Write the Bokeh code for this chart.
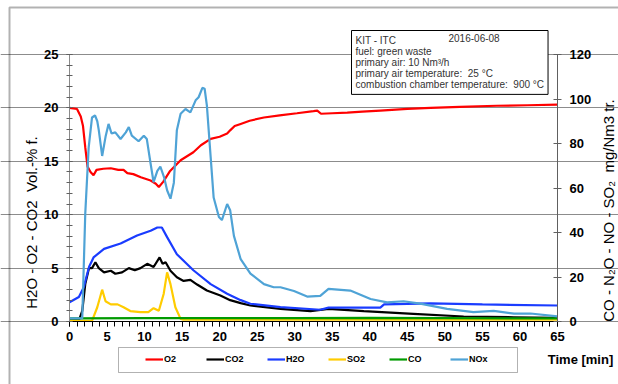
import math
from bokeh.plotting import figure
from bokeh.models import (Range1d, LinearAxis, FixedTicker, Label, BoxAnnotation,
                          Legend, LegendItem)
from bokeh.embed import file_html
from bokeh.resources import INLINE

# ---------------- data ----------------
o2_t = [0, 1.0, 1.5, 1.8, 2.1, 2.4, 2.8, 3.2, 3.6, 4.5, 5.5, 6.5, 7.2, 7.7, 8.5, 9.5, 10.8, 11.5,
        11.9, 12.5, 13.4, 14.8, 16.5, 17.5, 18.8, 20, 21, 21.4, 22, 22.8, 24, 25.9, 28, 30.3, 32.5,
        33.0, 33.5, 35, 37, 39, 41.4, 45, 48.1, 52, 56.9, 61, 65]
o2_v = [20.0, 19.9, 19.2, 18.3, 16.3, 14.5, 14.0, 13.7, 14.2, 14.3, 14.35, 14.2, 14.2, 13.9, 13.8,
        13.5, 13.2, 12.9, 12.6, 13.1, 14.1, 15.1, 15.85, 16.5, 17.1, 17.3, 17.6, 17.9, 18.3, 18.5,
        18.8, 19.1, 19.3, 19.5, 19.7, 19.75, 19.45, 19.5, 19.55, 19.65, 19.75, 19.9, 20.0, 20.1,
        20.2, 20.25, 20.3]

co2_t = [0, 1.3, 1.7, 2.1, 2.6, 3.0, 3.45, 3.9, 4.6, 5.5, 6.1, 7.0, 7.9, 8.7, 9.45, 10.35, 11.2,
         12.0, 12.4, 12.8, 13.45, 14.3, 15.2, 16.1, 17.0, 18.3, 20.1, 21.4, 22.8, 24.1, 28.1, 32.1,
         34.5, 39.2, 45.8, 52.5, 59.2, 65]
co2_v = [0.2, 0.2, 1.0, 3.5, 5.0, 5.0, 5.55, 5.0, 4.6, 4.75, 4.47, 4.6, 5.0, 4.8, 5.0, 5.4, 5.1,
         6.0, 5.4, 5.55, 4.75, 4.15, 3.8, 3.9, 3.46, 2.9, 2.43, 2.0, 1.72, 1.5, 1.19, 0.97, 1.19,
         0.97, 0.72, 0.47, 0.4, 0.35]

h2o_t = [0, 1.25, 1.9, 2.6, 3.2, 4.6, 6.8, 9.0, 10.8, 11.7, 12.3, 13.0, 14.3, 16.5, 18.8, 21,
         22.8, 24.1, 28.1, 33.4, 34.5, 41.4, 41.9, 48.1, 55, 65]
h2o_v = [1.8, 2.3, 3.2, 5.1, 6.0, 6.8, 7.3, 8.05, 8.5, 8.8, 8.8, 7.9, 6.3, 4.8, 3.5, 2.6, 2.0,
         1.66, 1.34, 1.1, 1.3, 1.3, 1.6, 1.7, 1.6, 1.5]

so2_t = [0, 3.0, 3.7, 4.35, 4.8, 5.5, 6.4, 7.2, 8.1, 9.45, 10.5, 11.2, 11.9, 12.55, 13.0, 13.45,
         14.1, 14.8, 15.2, 20, 30, 40, 50, 65]
so2_v = [0.3, 0.3, 6.4, 14.3, 9.1, 7.7, 7.7, 6.4, 4.7, 4.2, 4.2, 6.0, 4.8, 12.5, 22.1, 16.8, 6.4,
         1.2, 0.8, 0.8, 0.8, 0.8, 0.8, 0.8]

co_t = [0, 10, 20, 30, 40, 50, 65]
co_v = [1.4, 1.5, 1.5, 1.5, 1.6, 1.5, 1.4]

nox_t = [0, 1.7, 2.1, 2.55, 3.0, 3.4, 3.7, 3.9, 4.35, 4.8, 5.2, 5.6, 6.1, 6.8, 7.5, 7.9, 8.3, 9.2,
         9.9, 10.3, 10.8, 11.2, 11.7, 12.1, 12.6, 13.0, 13.45, 13.9, 14.3, 14.8, 15.45, 16.1, 16.8,
         17.2, 17.7, 18.0, 18.3, 18.8, 19.2, 19.9, 20.3, 21.0, 21.4, 21.9, 22.8, 24.1, 25.9, 27.2,
         28.1, 29.9, 31.65, 33.4, 34.5, 37.4, 40.1, 42.3, 44.5, 46.7, 50.3, 53.8, 56.5, 59.2, 61.4, 65]
nox_v = [1.4, 1.4, 48.5, 78, 91.7, 92.6, 90, 86, 74.4, 83, 88.8, 84.5, 85, 82, 85, 87.4, 83.5, 81,
         83.5, 82, 71, 62.6, 67.7, 69.6, 64.8, 59, 55.2, 62.4, 86, 93.4, 95.5, 94, 99.4, 100.8, 105,
         104.6, 97, 74, 55.7, 47, 45.6, 52.8, 50, 38.5, 28, 21.5, 16.8, 15.4, 15.4, 13.7, 11.2, 11.5,
         14.7, 13.9, 10.1, 8.6, 9.1, 8.0, 5.7, 4.2, 4.8, 3.5, 3.6, 2.3]

x_ticks = list(range(0, 66, 5))
x_minor = list(range(0, 66))
left_ticks = [0, 5, 10, 15, 20, 25]
left_minor = list(range(0, 26))
right_ticks = [0, 20, 40, 60, 80, 100, 120]

X_MAX, L_MAX, R_MAX = 65, 25, 120

# ---------------- geometry (canvas pixels) ----------------
W, H = 618, 384
PL, PR, PT, PB = 69, 557, 54, 321          # plot area edges
sx = (PR - PL) / X_MAX
sy = (PB - PT) / L_MAX
sr = (PB - PT) / R_MAX

p = figure(width=W, height=H, output_backend="svg", toolbar_location=None,
           x_range=Range1d(-PL / sx, X_MAX + (W - PR) / sx),
           y_range=Range1d(-(H - PB) / sy, L_MAX + PT / sy),
           min_border=0, min_border_left=0, min_border_right=0,
           min_border_top=0, min_border_bottom=0,
           background_fill_color="white", border_fill_color="white")
p.outline_line_color = None
p.extra_y_ranges = {"mg": Range1d(-(H - PB) / sr, R_MAX + PT / sr)}

FONT = "Liberation Sans"
TICK_SIZE = "13px"

xa = p.xaxis[0]
xa.fixed_location = 0
xa.bounds = (0, X_MAX)
xa.ticker = FixedTicker(ticks=x_ticks, minor_ticks=x_minor)
xa.axis_line_color = "black"
xa.major_tick_line_color = "black"
xa.minor_tick_line_color = "black"
xa.major_tick_in = 0
xa.major_tick_out = 5
xa.minor_tick_in = 0
xa.minor_tick_out = 5
xa.major_label_standoff = 5
xa.major_label_text_font = FONT
xa.major_label_text_font_style = "bold"
xa.major_label_text_font_size = TICK_SIZE
xa.major_label_text_color = "black"

ya = p.yaxis[0]
ya.fixed_location = 0
ya.bounds = (0, L_MAX)
ya.ticker = FixedTicker(ticks=left_ticks, minor_ticks=left_minor)
ya.axis_line_color = "#8a8a8a"
ya.major_tick_line_color = "#606060"
ya.minor_tick_line_color = "#606060"
ya.major_tick_in = 3
ya.major_tick_out = 3
ya.minor_tick_in = 3
ya.minor_tick_out = 3
ya.major_label_standoff = 8
ya.major_label_text_font = FONT
ya.major_label_text_font_style = "bold"
ya.major_label_text_font_size = TICK_SIZE
ya.major_label_text_color = "black"

ra = LinearAxis(y_range_name="mg", fixed_location=X_MAX, bounds=(0, R_MAX),
                ticker=FixedTicker(ticks=right_ticks, minor_ticks=[]))
ra.axis_line_color = "#606060"
ra.major_tick_line_color = "#606060"
ra.major_tick_in = 4
ra.major_tick_out = 4
ra.major_label_standoff = 8
ra.major_label_text_font = FONT
ra.major_label_text_font_style = "bold"
ra.major_label_text_font_size = TICK_SIZE
ra.major_label_text_color = "black"
p.add_layout(ra, "right")

p.xgrid.grid_line_color = None
p.ygrid.ticker = FixedTicker(ticks=left_ticks)
p.ygrid.bounds = (0, X_MAX)
p.ygrid.grid_line_color = "#8c8c8c"
p.ygrid.grid_line_width = 1

# ---------------- lines ----------------
r_o2 = p.line(o2_t, o2_v, line_color="#ff0000", line_width=2.2)
r_co2 = p.line(co2_t, co2_v, line_color="#000000", line_width=2.2)
r_h2o = p.line(h2o_t, h2o_v, line_color="#1a3cff", line_width=2.2)
r_so2 = p.line(so2_t, so2_v, line_color="#ffcc00", line_width=2.2, y_range_name="mg")
r_co = p.line(co_t, co_v, line_color="#009a00", line_width=2.2, y_range_name="mg")
r_nox = p.line(nox_t, nox_v, line_color="#4fa3d6", line_width=2.2, y_range_name="mg")

# screen helpers: frame == canvas, y measured upward from the bottom
def cy(y):
    return H - y

# legend frame and outer chart border
p.add_layout(BoxAnnotation(left=118, right=517, top=cy(347), bottom=cy(372),
                           left_units="screen", right_units="screen",
                           top_units="screen", bottom_units="screen",
                           fill_color="white", fill_alpha=1, line_color="black", line_width=1))
p.add_layout(BoxAnnotation(left=9, right=W + 50, top=cy(7), bottom=-50,
                           left_units="screen", right_units="screen",
                           top_units="screen", bottom_units="screen",
                           fill_alpha=0, line_color="black", line_width=2))

# ---------------- legend ----------------
legend = Legend(items=[LegendItem(label="O2", renderers=[r_o2]),
                       LegendItem(label="CO2", renderers=[r_co2]),
                       LegendItem(label="H2O", renderers=[r_h2o]),
                       LegendItem(label="SO2", renderers=[r_so2]),
                       LegendItem(label="CO", renderers=[r_co]),
                       LegendItem(label="NOx", renderers=[r_nox])],
                orientation="horizontal", location=(145, cy(365)),
                padding=0, margin=0, spacing=22, glyph_width=18, glyph_height=12,
                label_height=12, label_standoff=1,
                label_text_font=FONT, label_text_font_style="bold",
                label_text_font_size="9px", label_text_color="black",
                border_line_color=None, background_fill_alpha=0)
p.add_layout(legend, "center")

# ---------------- texts ----------------
NB2 = "\u00a0\u00a0"
p.add_layout(Label(x=31, y=cy(222), x_units="screen", y_units="screen",
                   text="H2O - O2 - CO2" + NB2 + "Vol.-% f.", angle=math.pi / 2,
                   text_align="center", text_baseline="middle",
                   text_font=FONT, text_font_size="15px", text_color="black"))
p.add_layout(Label(x=608, y=cy(210), x_units="screen", y_units="screen",
                   text="CO - N\u2082O - NO - SO\u2082" + NB2 + "mg/Nm3 tr.", angle=math.pi / 2,
                   text_align="center", text_baseline="middle",
                   text_font=FONT, text_font_size="15px", text_color="black"))
p.add_layout(Label(x=580, y=cy(359), x_units="screen", y_units="screen",
                   text="Time [min]", text_align="center", text_baseline="middle",
                   text_font=FONT, text_font_style="bold", text_font_size="13px",
                   text_color="black"))

info = ("KIT - ITC\nfuel: green waste\nprimary air: 10 Nm\u00b3/h\n"
        "primary air temperature:" + NB2 + "25 \u00b0C\n"
        "combustion chamber temperature:" + NB2 + "900 \u00b0C")
p.add_layout(Label(x=351, y=cy(30), x_units="screen", y_units="screen",
                   text=info, text_align="left", text_baseline="top",
                   text_font=FONT, text_font_size="10px", text_color="#333333",
                   text_line_height=1.02, padding=4,
                   border_line_color="black", border_line_width=1,
                   background_fill_color="white"))
p.add_layout(Label(x=448, y=cy(33), x_units="screen", y_units="screen",
                   text="2016-06-08", text_align="left", text_baseline="top",
                   text_font=FONT, text_font_size="10px", text_color="#333333"))

open("out.html", "w").write(file_html(p, INLINE))
